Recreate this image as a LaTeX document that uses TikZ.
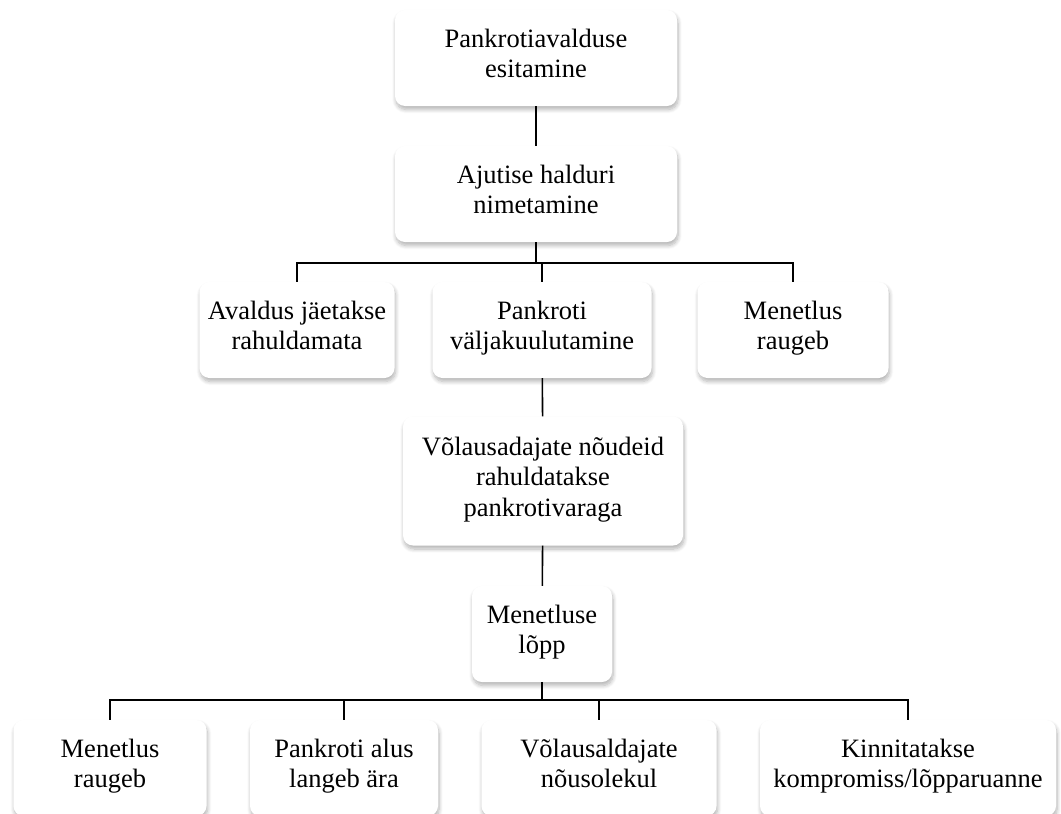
\documentclass[tikz,border=0pt]{standalone}
\usepackage{fontspec}
\setmainfont{Liberation Serif}
\usetikzlibrary{positioning, shadows.blur}

\begin{document}
\begin{tikzpicture}[x=1pt, y=-1pt,
    stage/.style={rounded corners=10pt, fill=white, inner sep=0pt, align=center,
      minimum height=96pt,
      blur shadow={shadow xshift=1pt, shadow yshift=-3.5pt, shadow blur radius=4pt, shadow blur steps=8, shadow opacity=30},
      execute at begin node={\rule{0pt}{27.5pt}}, execute at end node={\rule[-9pt]{0pt}{9pt}},
      font=\fontsize{26.5}{30.5}\selectfont},
    link/.style={line width=1.6pt}]
    \useasboundingbox (0,0) rectangle (1061,814);

    % Start of proceedings
    \node[stage, minimum width=282pt] (filing) at (536,58) {Pankrotiavalduse\\esitamine};
    \node[stage, minimum width=282pt] (admin) at (536,194) {Ajutise halduri\\nimetamine};

    % Three outcomes
    \node[stage, minimum width=195pt] (reject) at (297,330) {Avaldus jäetakse\\rahuldamata};
    \node[stage, minimum width=219pt] (declare) at (542,330) {Pankroti\\väljakuulutamine};
    \node[stage, minimum width=191pt] (lapse) at (793,330) {Menetlus\\raugeb};

    % Satisfying claims
    \node[stage, minimum width=280pt, minimum height=129pt] (claims) at (543,481) {Võlausadajate nõudeid\\rahuldatakse\\pankrotivaraga};
    \node[stage, minimum width=140pt] (finish) at (542,634) {Menetluse\\lõpp};

    % Ways to end
    \node[stage, minimum width=193pt] (endlapse) at (110,768) {Menetlus\\raugeb};
    \node[stage, minimum width=188pt] (endbasis) at (344,768) {Pankroti alus\\langeb ära};
    \node[stage, minimum width=235pt] (endconsent) at (599,768) {Võlausaldajate\\nõusolekul};
    \node[stage, minimum width=296pt] (endreport) at (908,768) {Kinnitatakse\\kompromiss/lõpparuanne};

    % Connectors
    \coordinate (topbus) at (540,263);
    \coordinate (lowbus) at (542,700);
    \draw[link] (filing) -- (admin);
    \draw[link] (admin.south) -- (admin.south |- topbus);
    \draw[link] (reject.north) -- (reject.north |- topbus) -- (lapse.north |- topbus) -- (lapse.north);
    \draw[link] (declare.north) -- (declare.north |- topbus);
    \draw[link] (declare) -- (claims);
    \draw[link] (claims) -- (finish);
    \draw[link] (finish.south) -- (finish.south |- lowbus);
    \draw[link] (endlapse.north) -- (endlapse.north |- lowbus) -- (endreport.north |- lowbus) -- (endreport.north);
    \draw[link] (endbasis.north) -- (endbasis.north |- lowbus);
    \draw[link] (endconsent.north) -- (endconsent.north |- lowbus);
\end{tikzpicture}
\end{document}
